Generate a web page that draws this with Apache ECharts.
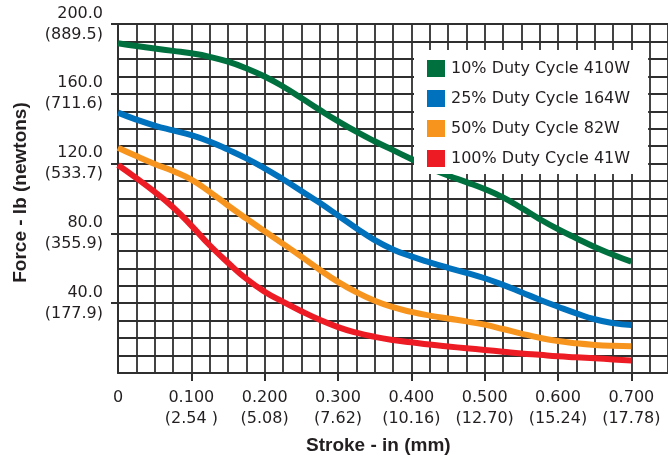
<!DOCTYPE html>
<html>
<head>
<meta charset="utf-8">
<script src="https://cdn.jsdelivr.net/npm/echarts@6/dist/echarts.min.js"></script>
<style>html,body{margin:0;padding:0;background:#fff;}#c{width:668px;height:461px;}</style>
</head>
<body>
<div id="c"></div>
<script>
// Stroke positions (in)
var stroke = [0, 0.025, 0.05, 0.075, 0.1, 0.125, 0.15, 0.175, 0.2, 0.225, 0.25, 0.275, 0.3, 0.325, 0.35, 0.375, 0.4, 0.425, 0.45, 0.475, 0.5, 0.525, 0.55, 0.575, 0.6, 0.625, 0.65, 0.675, 0.7];
// Force (lb) per duty cycle
var duty10 = [189, 187.4, 186, 184.6, 183.2, 181.2, 178.4, 174.6, 169.9, 164.2, 157.6, 150.8, 144.3, 138.3, 132.8, 127.7, 122.6, 117.6, 113.2, 109.4, 105.4, 100.6, 94.6, 88.2, 82.4, 77.2, 72.2, 67.8, 63.8];
var duty25 = [149.2, 145.2, 141.8, 139, 136.3, 132.6, 128, 123, 117.3, 111, 104.3, 97.5, 90.3, 83, 76.2, 70.8, 66.8, 63.4, 60.3, 57.4, 54.3, 50.5, 46.3, 42, 38, 34.2, 30.8, 28.6, 27.5];
var duty50 = [129.1, 124.3, 119.8, 115.7, 110.8, 103.8, 96, 88.5, 81.2, 74, 66.7, 59.2, 52.2, 46.3, 41.4, 37.7, 35, 32.9, 31.2, 29.6, 27.7, 25.2, 22.6, 20.2, 18.3, 17, 16.1, 15.6, 15.4];
var duty100 = [119.2, 111.7, 103.8, 95, 84.5, 73.2, 63.2, 54, 46.6, 40.8, 35.4, 30.5, 26.3, 23.1, 20.7, 18.9, 17.6, 16.3, 15.2, 14.2, 13.2, 12.2, 11.2, 10.4, 9.6, 9, 8.4, 7.8, 7.1];
var seriesNames = ['10% Duty Cycle 410W', '25% Duty Cycle 164W', '50% Duty Cycle 82W', '100% Duty Cycle 41W'];
// Tick labels
var xTickValues = [0, 0.1, 0.2, 0.3, 0.4, 0.5, 0.6, 0.7];
var xTickMarks = [0.1, 0.2, 0.3, 0.4, 0.5, 0.6, 0.7];
var xTickLabels = ['0', '0.100\n(2.54 )', '0.200\n(5.08)', '0.300\n(7.62)', '0.400\n(10.16)', '0.500\n(12.70)', '0.600\n(15.24)', '0.700\n(17.78)'];
var yTickValues = [40, 80, 120, 160, 200];
var yTickLabels = ['40.0\n(177.9)', '80.0\n(355.9)', '120.0\n(533.7)', '160.0\n(711.6)', '200.0\n(889.5)'];
var xTitle = 'Stroke - in (mm)';
var yTitle = 'Force - lb (newtons)';

var colors = ['#00703f', '#0071bd', '#f7941e', '#ed1c24'];
var gridColor = '#2f2f2f';
var textColor = '#231f20';

function lookup(vals, labels, v) {
  for (var i = 0; i < vals.length; i++) if (Math.abs(vals[i] - v) < 1e-9) return labels[i];
  return '';
}
function pairs(ys) { return stroke.map(function (x, i) { return [x, ys[i]]; }); }
var allData = [duty10, duty25, duty50, duty100];

var chart = echarts.init(document.getElementById('c'), null, {renderer: 'canvas'});
chart.setOption({
  animation: false,
  backgroundColor: '#fff',
  grid: {left: 118, top: 24, width: 551, height: 349, containLabel: false},
  xAxis: [{
    type: 'value', min: 0, max: 0.75, interval: 0.025, position: 'bottom',
    axisLine: {show: true, lineStyle: {color: gridColor, width: 2}},
    splitLine: {show: true, lineStyle: {color: gridColor, width: 1.8}},
    axisTick: {show: false},
    axisLabel: {show: false}
  }, {
    type: 'value', min: 0, max: 0.75, position: 'bottom',
    axisLine: {show: false},
    splitLine: {show: false},
    axisTick: {show: true, customValues: xTickMarks, length: 8, lineStyle: {color: gridColor, width: 2}},
    axisLabel: {
      customValues: xTickValues, margin: 14, lineHeight: 21,
      fontFamily: 'DejaVu Sans', fontSize: 16, color: textColor,
      formatter: function (v) { return lookup(xTickValues, xTickLabels, v); }
    }
  }],
  yAxis: [{
    type: 'value', min: 0, max: 200, interval: 10, position: 'left',
    axisLine: {show: true, lineStyle: {color: gridColor, width: 2}},
    splitLine: {show: true, lineStyle: {color: gridColor, width: 1.8}},
    axisTick: {show: false},
    axisLabel: {show: false}
  }, {
    type: 'value', min: 0, max: 200, position: 'left',
    axisLine: {show: false},
    splitLine: {show: false},
    axisTick: {show: true, customValues: yTickValues, length: 7, lineStyle: {color: gridColor, width: 2}},
    axisLabel: {
      customValues: yTickValues, margin: 15, lineHeight: 21,
      fontFamily: 'DejaVu Sans', fontSize: 16, color: textColor, align: 'right',
      formatter: function (v) { return lookup(yTickValues, yTickLabels, v); }
    }
  }],
  legend: {
    orient: 'vertical', left: 414, top: 50,
    itemWidth: 18, itemHeight: 17, itemGap: 13,
    padding: [10, 18, 7, 13],
    backgroundColor: '#ffffff',
    icon: 'rect',
    itemStyle: {borderWidth: 0},
    textStyle: {fontFamily: 'DejaVu Sans', fontSize: 16, color: textColor, padding: [0, 0, 0, 1]},
    data: seriesNames
  },
  graphic: [
    {type: 'text', left: 306, top: 436, style: {text: xTitle, font: 'bold 19px "Liberation Sans"', fill: textColor}},
    {type: 'text', x: 21, y: 192.5, rotation: Math.PI / 2,
     style: {text: yTitle, font: 'bold 19px "Liberation Sans"', fill: textColor, align: 'center', verticalAlign: 'middle'}}
  ],
  series: seriesNames.map(function (n, i) {
    return {
      name: n, type: 'line', data: pairs(allData[i]),
      xAxisIndex: 0, yAxisIndex: 0,
      showSymbol: false, symbol: 'none', smooth: 0.5,
      color: colors[i],
      lineStyle: {color: colors[i], width: 6, cap: 'butt', join: 'round'},
      itemStyle: {color: colors[i]},
      z: 3
    };
  })
});
</script>
</body>
</html>
